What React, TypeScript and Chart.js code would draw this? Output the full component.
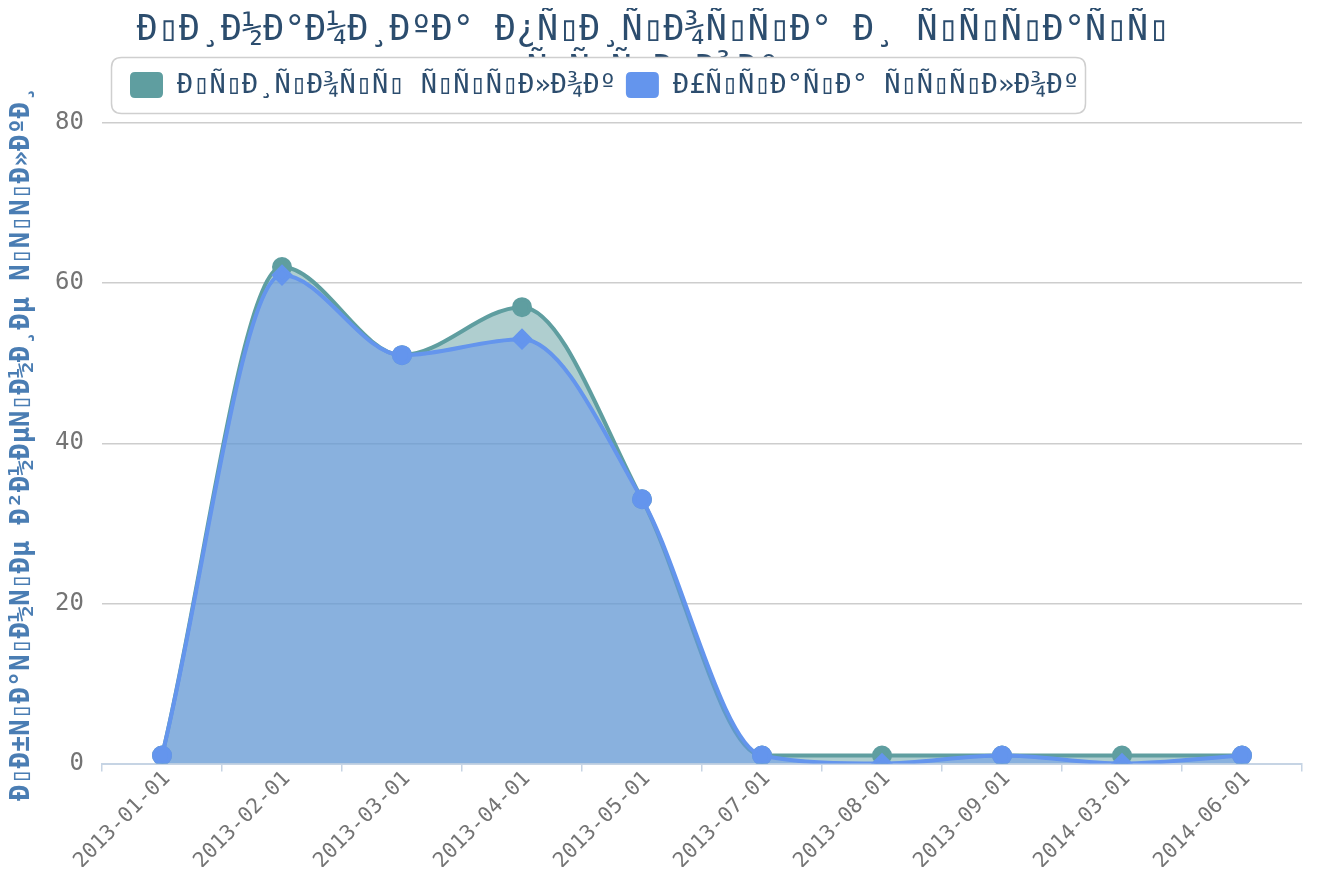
import React, { useEffect, useRef } from "react";
import { Chart, registerables } from "chart.js";

Chart.register(...registerables);

// ---- data ----
const categories = [
  "2013-01-01",
  "2013-02-01",
  "2013-03-01",
  "2013-04-01",
  "2013-05-01",
  "2013-07-01",
  "2013-08-01",
  "2013-09-01",
  "2014-03-01",
  "2014-06-01",
];
const gainValues = [1, 62, 51, 57, 33, 1, 1, 1, 1, 1];
const lossValues = [1, 61, 51, 53, 33, 1, 0, 1, 0, 1];
const yTickValues = [0, 20, 40, 60, 80];

// The reference shows UTF-8 Russian text decoded as Latin-1 (mojibake);
// the C1 control bytes appear there as empty "missing glyph" boxes.
function mojibake(s: string): string {
  const bytes = new TextEncoder().encode(s);
  let out = "";
  bytes.forEach((b) => {
    out += b >= 0x80 && b <= 0x9f ? "\u25AF" : String.fromCharCode(b);
  });
  return out;
}

const titleLines = [mojibake("Динамика прироста и утраты"), mojibake("ссылок")];
const gainName = mojibake("Прирост ссылок");
const lossName = mojibake("Утрата ссылок");
const yAxisTitle = mojibake("Обратные внешние ссылки");

// ---- styles ----
const MONO = "'DejaVu Sans Mono', monospace";
const TEAL = "#5f9ea0";
const BLUE = "#6495ed";
const TEAL_FILL = "rgba(95,158,160,0.5)";
const BLUE_FILL = "rgba(100,149,237,0.5)";
const TITLE_COLOR = "#2c4d6e";
const TICK_COLOR = "#747474";
const AXIS_COLOR = "#c6d4e4";

function roundRect(ctx: CanvasRenderingContext2D, x: number, y: number, w: number, h: number, r: number) {
  ctx.beginPath();
  ctx.moveTo(x + r, y);
  ctx.lineTo(x + w - r, y);
  ctx.quadraticCurveTo(x + w, y, x + w, y + r);
  ctx.lineTo(x + w, y + h - r);
  ctx.quadraticCurveTo(x + w, y + h, x + w - r, y + h);
  ctx.lineTo(x + r, y + h);
  ctx.quadraticCurveTo(x, y + h, x, y + h - r);
  ctx.lineTo(x, y + r);
  ctx.quadraticCurveTo(x, y, x + r, y);
  ctx.closePath();
}

const headerPlugin = {
  id: "headerPlugin",
  afterDraw(chart: any) {
    const ctx: CanvasRenderingContext2D = chart.ctx;
    ctx.save();
    // title (two lines, second partly hidden by the legend frame)
    ctx.font = `35px ${MONO}`;
    ctx.fillStyle = TITLE_COLOR;
    ctx.textAlign = "center";
    ctx.textBaseline = "alphabetic";
    titleLines.forEach((line, i) => ctx.fillText(line, 645, 32 + i * 40));

    // legend frame
    roundRect(ctx, 103.5, 49.5, 974, 56, 10);
    ctx.fillStyle = "#ffffff";
    ctx.fill();
    ctx.strokeStyle = "#cfcfcf";
    ctx.lineWidth = 1.5;
    ctx.stroke();

    // legend items
    ctx.font = `27px ${MONO}`;
    ctx.textAlign = "left";
    ctx.textBaseline = "middle";
    let x = 122;
    chart.data.datasets.forEach((ds: any) => {
      roundRect(ctx, x, 64, 33, 26, 5);
      ctx.fillStyle = ds.borderColor;
      ctx.fill();
      const tx = x + 33 + 14;
      ctx.fillStyle = TITLE_COLOR;
      ctx.fillText(ds.label, tx, 78);
      x = tx + ctx.measureText(ds.label).width + 10;
    });
    ctx.restore();
  },
};

export default function App() {
  const canvasRef = useRef<HTMLCanvasElement | null>(null);

  useEffect(() => {
    if (!canvasRef.current) return;
    const chart = new Chart(canvasRef.current, {
      type: "line",
      data: {
        labels: categories,
        datasets: [
          {
            label: gainName,
            data: gainValues,
            borderColor: TEAL,
            backgroundColor: TEAL_FILL,
            pointBackgroundColor: TEAL,
            pointBorderColor: TEAL,
            pointRadius: 8,
            pointStyle: "circle",
            borderWidth: 4,
            cubicInterpolationMode: "monotone",
            fill: "origin",
            order: 2,
          },
          {
            label: lossName,
            data: lossValues,
            borderColor: BLUE,
            backgroundColor: BLUE_FILL,
            pointBackgroundColor: BLUE,
            pointBorderColor: BLUE,
            pointRadius: 8,
            pointStyle: (ctx: any) =>
              lossValues[ctx.dataIndex] === gainValues[ctx.dataIndex] ? "circle" : "rectRot",
            borderWidth: 4,
            cubicInterpolationMode: "monotone",
            fill: "origin",
            order: 1,
          },
        ],
      },
      options: {
        animation: false,
        responsive: true,
        maintainAspectRatio: false,
        layout: { padding: { top: 115, left: 0, right: 1, bottom: 0 } },
        plugins: {
          legend: { display: false },
          title: { display: false },
          tooltip: { enabled: false },
        },
        scales: {
          x: {
            type: "category",
            offset: true,
            afterFit: (scale: any) => {
              scale.height = 103.5;
            },
            grid: {
              display: true,
              offset: true,
              drawOnChartArea: false,
              drawTicks: true,
              tickLength: 8,
              color: AXIS_COLOR,
              lineWidth: 1.5,
            },
            border: { display: true, color: AXIS_COLOR, width: 2 },
            ticks: {
              autoSkip: false,
              maxRotation: 45,
              minRotation: 45,
              color: TICK_COLOR,
              padding: -5,
              labelOffset: 5,
              font: { family: MONO, size: 21 },
            },
          },
          y: {
            min: 0,
            max: 80,
            afterFit: (scale: any) => {
              scale.width = 94;
            },
            afterBuildTicks: (scale: any) => {
              scale.ticks = yTickValues.map((v) => ({ value: v }));
            },
            grid: {
              color: "#cdcdcd",
              lineWidth: 1.5,
              drawTicks: false,
            },
            border: { display: false },
            ticks: {
              color: TICK_COLOR,
              padding: 18,
              font: { family: MONO, size: 24 },
            },
            title: {
              display: true,
              text: yAxisTitle,
              color: "#4a7db3",
              padding: { top: 0, bottom: 0 },
              font: { family: MONO, size: 27, weight: "bold", lineHeight: 1.0 },
            },
          },
        },
      },
      plugins: [headerPlugin],
    });
    return () => chart.destroy();
  }, []);

  return (
    <div style={{ position: "relative", width: 1306, height: 859 }}>
      <canvas ref={canvasRef} />
    </div>
  );
}
